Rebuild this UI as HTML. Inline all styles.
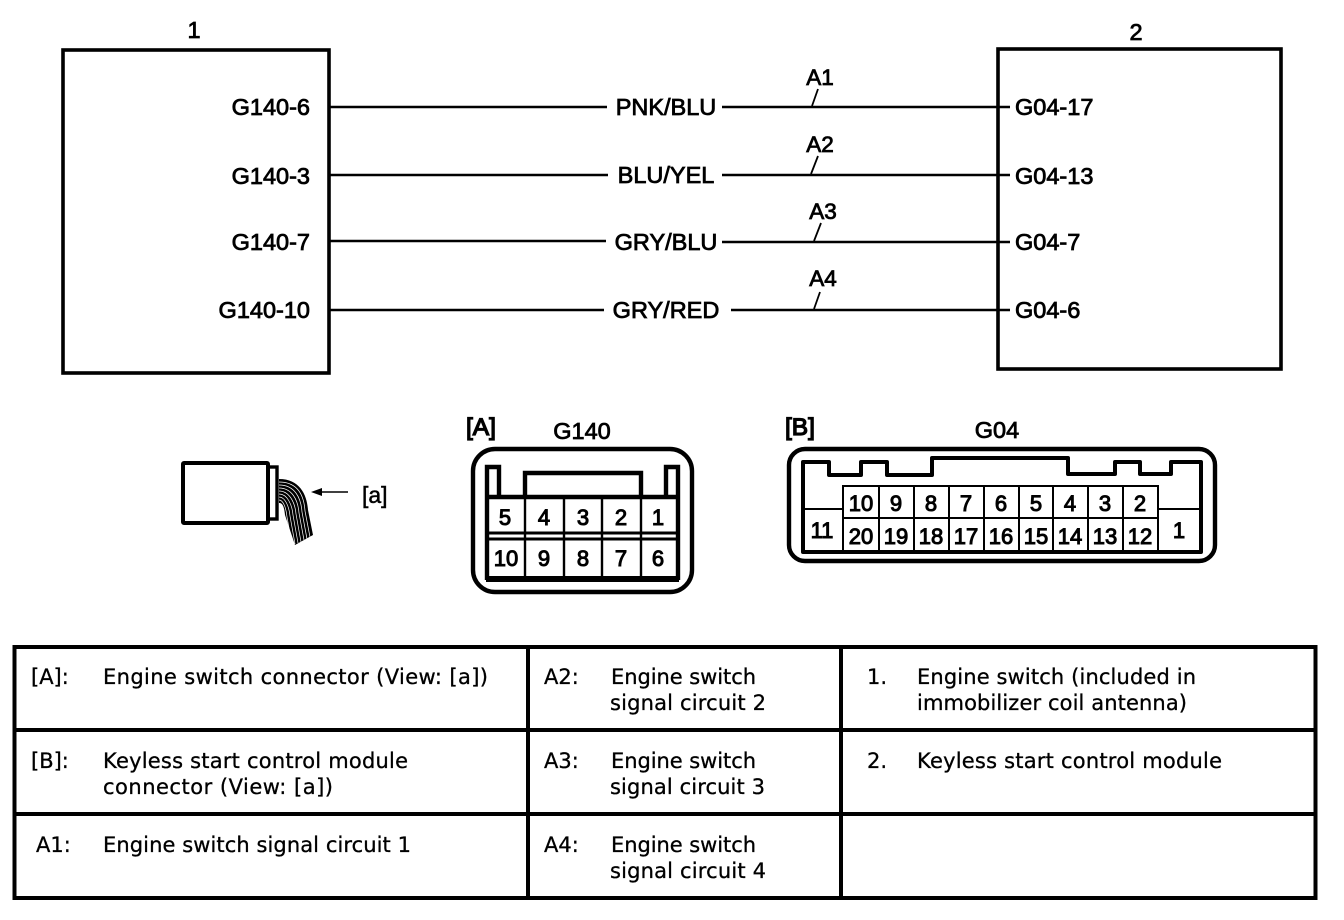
<!DOCTYPE html>
<html><head><meta charset="utf-8"><style>
html,body{margin:0;padding:0;background:#fff}
svg{display:block}
.a{font-family:"Liberation Sans",sans-serif;font-size:23.5px;fill:#000;stroke:#000;stroke-width:.8}
.n{font-family:"Liberation Sans",sans-serif;font-size:22px;fill:#000;stroke:#000;stroke-width:1;text-anchor:middle}
.t{font-family:"DejaVu Sans",sans-serif;font-size:21px;fill:#000;stroke:#000;stroke-width:.3}
.l{stroke:#000;fill:none}
</style></head><body>
<svg width="1344" height="920" viewBox="0 0 1344 920" xmlns="http://www.w3.org/2000/svg">
<rect width="1344" height="920" fill="#fff"/>
<rect class="l" stroke-width="3.6" x="63" y="50" width="266" height="323"/>
<rect class="l" stroke-width="3.6" x="998" y="49" width="283" height="320"/>
<text class="a" x="194" y="38" text-anchor="middle">1</text>
<text class="a" x="1136" y="40" text-anchor="middle">2</text>

<g class="l" stroke-width="2.6">
<path d="M329 107H607M722 107H1010"/>
<path d="M329 175H608M722 175H1010"/>
<path d="M329 241H606M722 242H1010"/>
<path d="M329 310H604M731 310H1010"/>
</g>
<g class="l" stroke-width="1.8">
<path d="M812 106L818 89M811 174L818 156M814 241L821 223M814 309L820 292"/>
</g>
<g class="a" text-anchor="end">
<text x="310" y="115">G140-6</text>
<text x="310" y="184">G140-3</text>
<text x="310" y="250">G140-7</text>
<text x="310" y="318">G140-10</text>
</g>
<g class="a">
<text x="1015" y="115">G04-17</text>
<text x="1015" y="184">G04-13</text>
<text x="1015" y="250">G04-7</text>
<text x="1015" y="318">G04-6</text>
</g>
<g class="a" text-anchor="middle">
<text x="666" y="115">PNK/BLU</text>
<text x="666" y="183">BLU/YEL</text>
<text x="666" y="250">GRY/BLU</text>
<text x="666" y="318">GRY/RED</text>
</g>
<g class="a" style="font-size:22.5px" text-anchor="middle">
<text x="820" y="85">A1</text>
<text x="820" y="152">A2</text>
<text x="823" y="219">A3</text>
<text x="823" y="286">A4</text>
</g>

<!-- small connector -->
<rect class="l" stroke-width="4" x="183" y="463" width="85" height="60" rx="1"/>
<rect class="l" stroke-width="3.4" x="268" y="467" width="9" height="52"/>
<path d="M279 479C300 479 307 495 308 510L313 535L295 545L285 515C284 505 282 503 279 503Z" fill="#000"/>
<g class="l" style="stroke:#fff" stroke-width=".7">
<path d="M279 482C298 482 304 496 305 511L310 537"/>
<path d="M279 485C295 485 301 498 302 512L307 539"/>
<path d="M279 488C292 488 298 500 299 513L304 540"/>
<path d="M279 491C289 491 295 502 296 514L301 542"/>
<path d="M279 494C287 494 292 504 293 515L298 543"/>
<path d="M279 497C285 497 289 506 290 516L295 544"/>
<path d="M279 500C283 500 286 507 287 517L292 545"/>
</g>
<path class="l" stroke-width="1.4" d="M318 492H348"/>
<path d="M311 492L322 488V496Z" fill="#000"/>
<text class="a" x="362" y="503" style="stroke-width:.5;font-size:23px">[a]</text>

<!-- G140 -->
<text class="a" x="466" y="435" style="stroke-width:1.3;font-size:24.5px">[A]</text>
<text class="a" x="582" y="439" text-anchor="middle">G140</text>
<rect class="l" stroke-width="4.4" x="473" y="449" width="219" height="143" rx="22"/>
<path class="l" stroke-width="4.4" d="M487 580V467H499V497M666 497V467H678V580M525 497V473H641V497"/>
<path class="l" stroke-width="4.4" d="M487 497H678"/>
<path class="l" stroke-width="6" d="M486 579H679"/>
<path class="l" stroke-width="3" d="M487 533H678M487 539H678"/>
<path class="l" stroke-width="2.4" d="M525 497V580M564 497V580M602 497V580M641 497V580"/>
<g class="n">
<text x="505" y="525">5</text><text x="544" y="525">4</text><text x="583" y="525">3</text><text x="621" y="525">2</text><text x="658" y="525">1</text>
<text x="506" y="566">10</text><text x="544" y="566">9</text><text x="583" y="566">8</text><text x="621" y="566">7</text><text x="658" y="566">6</text>
</g>

<!-- G04 -->
<text class="a" x="785" y="435" style="stroke-width:1.3;font-size:24.5px">[B]</text>
<text class="a" x="997" y="438" text-anchor="middle">G04</text>
<rect class="l" stroke-width="4.4" x="789" y="449" width="426" height="112" rx="16"/>
<path class="l" stroke-width="4" stroke-linejoin="round" d="M803 552V462H829V475H861V462H887V475H932V458H1068V474H1115V462H1140V474H1171V462H1201V552Z"/>
<path class="l" stroke-width="2" d="M843 552V486H1158V552M843 518H1158M804 509H843M1158 509H1200M879 486V552M914 486V552M949 486V552M984 486V552M1019 486V552M1053 486V552M1088 486V552M1123 486V552"/>
<g class="n">
<text x="861" y="511">10</text><text x="896" y="511">9</text><text x="931" y="511">8</text><text x="966" y="511">7</text><text x="1001" y="511">6</text><text x="1036" y="511">5</text><text x="1070" y="511">4</text><text x="1105" y="511">3</text><text x="1140" y="511">2</text>
<text x="861" y="544">20</text><text x="896" y="544">19</text><text x="931" y="544">18</text><text x="966" y="544">17</text><text x="1001" y="544">16</text><text x="1036" y="544">15</text><text x="1070" y="544">14</text><text x="1105" y="544">13</text><text x="1140" y="544">12</text>
<text x="822" y="538">11</text><text x="1179" y="538">1</text>
</g>

<!-- table -->
<rect class="l" stroke-width="4" x="14.5" y="647" width="1301" height="251"/>
<path class="l" stroke-width="4" d="M528 647V898M841 647V898M14 730H1316M14 814H1316"/>
<g class="t">
<text x="31" y="684">[A]:</text>
<text x="103" y="684" textLength="385">Engine switch connector (View: [a])</text>
<text x="31" y="768">[B]:</text>
<text x="103" y="768" textLength="305">Keyless start control module</text>
<text x="103" y="794" textLength="230">connector (View: [a])</text>
<text x="36" y="852">A1:</text>
<text x="103" y="852" textLength="308">Engine switch signal circuit 1</text>

<text x="544" y="684">A2:</text>
<text x="611" y="684" textLength="145">Engine switch</text>
<text x="610" y="710" textLength="156">signal circuit 2</text>
<text x="544" y="768">A3:</text>
<text x="611" y="768" textLength="145">Engine switch</text>
<text x="610" y="794" textLength="155">signal circuit 3</text>
<text x="544" y="852">A4:</text>
<text x="611" y="852" textLength="145">Engine switch</text>
<text x="610" y="878" textLength="156">signal circuit 4</text>

<text x="867" y="684">1.</text>
<text x="917" y="684" textLength="279">Engine switch (included in</text>
<text x="917" y="710" textLength="270">immobilizer coil antenna)</text>
<text x="867" y="768">2.</text>
<text x="917" y="768" textLength="305">Keyless start control module</text>
</g>
</svg>
</body></html>
